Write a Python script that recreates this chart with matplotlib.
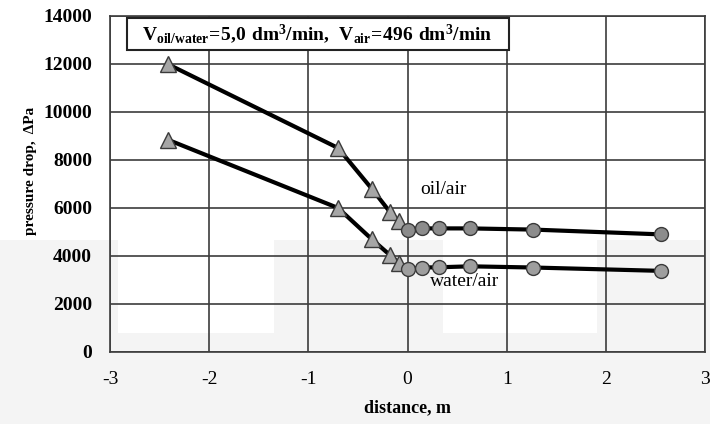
import matplotlib
matplotlib.use('Agg')
import matplotlib.pyplot as plt
from matplotlib.patches import Rectangle

# values
oil_tri_x = [-2.42, -0.70, -0.36, -0.18, -0.09]
oil_tri_y = [12000, 8500, 6800, 5850, 5450]
oil_dot_x = [0.0, 0.15, 0.32, 0.63, 1.27, 2.56]
oil_dot_y = [5100, 5150, 5150, 5150, 5100, 4900]

wat_tri_x = [-2.42, -0.70, -0.36, -0.18, -0.09]
wat_tri_y = [8850, 6000, 4700, 4050, 3720]
wat_dot_x = [0.0, 0.15, 0.32, 0.63, 1.27, 2.56]
wat_dot_y = [3450, 3520, 3530, 3570, 3520, 3380]

xticks = [-3, -2, -1, 0, 1, 2, 3]
yticks = [0, 2000, 4000, 6000, 8000, 10000, 12000, 14000]

plt.rcParams['font.family'] = ['Liberation Serif', 'DejaVu Serif']
plt.rcParams['mathtext.fontset'] = 'custom'
plt.rcParams['mathtext.rm'] = 'Liberation Serif'
plt.rcParams['mathtext.bf'] = 'Liberation Serif:bold'

W, H = 710, 424
fig = plt.figure(figsize=(W / 100, H / 100), dpi=100)

def px(x0, y0, x1, y1, c):
    # rectangle in pixel coords (y from top) on the figure background
    fig.patches.append(Rectangle((x0 / W, 1 - y1 / H), (x1 - x0) / W, (y1 - y0) / H,
                                 transform=fig.transFigure, color=c, zorder=-5, lw=0))

# faint watermark shading of the scan
px(0, 240, W, H, '#f4f4f4')
px(118, 240, 274, 333, 'white')
px(443, 240, 597, 333, 'white')

ax = fig.add_axes([110 / W, 1 - 352 / H, 595 / W, 336 / H])
ax.set_facecolor('none')
ax.set_zorder(2)

gc = '#3c3c3c'
ax.grid(True, color=gc, lw=1.2, zorder=1)
for s in ax.spines.values():
    s.set_color(gc)
    s.set_linewidth(1.2)
ax.tick_params(length=0, labelsize=14)
ax.tick_params(axis='y', pad=13)
ax.tick_params(axis='x', pad=14)

ax.plot(oil_tri_x + oil_dot_x, oil_tri_y + oil_dot_y, color='black', lw=3, zorder=3)
ax.plot(wat_tri_x + wat_dot_x, wat_tri_y + wat_dot_y, color='black', lw=3, zorder=3)

ax.plot(oil_tri_x, oil_tri_y, '^', ms=12, mfc='#a6a6a6', mec='#3a3a3a', mew=1, zorder=4)
ax.plot(wat_tri_x, wat_tri_y, '^', ms=12, mfc='#a6a6a6', mec='#3a3a3a', mew=1, zorder=4)
ax.plot(oil_dot_x, oil_dot_y, 'o', ms=10, mfc='#8c8c8c', mec='#3a3a3a', mew=1, zorder=5)
ax.plot(wat_dot_x, wat_dot_y, 'o', ms=10, mfc='#9e9e9e', mec='#3a3a3a', mew=1, zorder=5)

ax.set_xlim(-3, 3)
ax.set_ylim(0, 14000)
ax.set_xticks(xticks)
ax.set_yticks(yticks)
ax.set_xticklabels([str(t) for t in xticks])
ax.set_yticklabels([str(t) for t in yticks], fontweight='bold')

ax.set_xlabel('distance, m', fontsize=13, fontweight='bold', labelpad=8)
ax.set_ylabel('pressure drop,  ΔPa', fontsize=11, fontweight='bold')
ax.yaxis.set_label_coords(-73 / 595, 1 - 155 / 336)

ax.text(0.36, 6750, 'oil/air', fontsize=14, ha='center', va='center', zorder=6)
ax.text(0.58, 2920, 'water/air', fontsize=14, ha='center', va='center', zorder=6)

# condition box
ax.add_patch(Rectangle((17 / 595, 1 - 34 / 336), 382 / 595, 32 / 336, transform=ax.transAxes,
                       facecolor='white', edgecolor='#222222', lw=1.5, zorder=7, clip_on=False))
ax.text(32 / 595, 1 - 18 / 336,
        r'$\mathbf{V_{oil/water}\!=\!5{,}0\ dm^{3}/min,\ V_{air}\!=\!496\ dm^{3}/min}$',
        transform=ax.transAxes, fontsize=14, ha='left', va='center', zorder=8)

fig.savefig('out.png', dpi=100)
